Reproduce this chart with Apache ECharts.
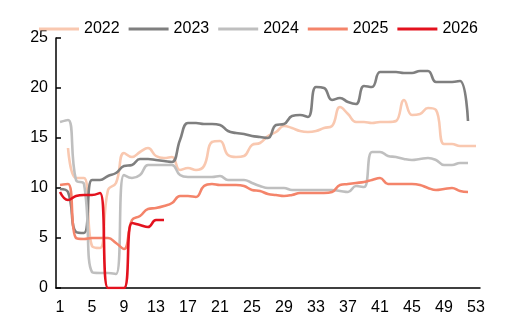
<!DOCTYPE html>
<html>
<head>
<meta charset="utf-8">
<script src="https://cdn.jsdelivr.net/npm/echarts@6/dist/echarts.min.js"></script>
<style>
html,body{margin:0;padding:0;background:#fff;}
#chart{width:510px;height:325px;}
</style>
</head>
<body>
<div id="chart"></div>
<script>
const weeks = ['1','2','3','4','5','6','7','8','9','10','11','12','13','14','15','16','17','18','19','20','21','22','23','24','25','26','27','28','29','30','31','32','33','34','35','36','37','38','39','40','41','42','43','44','45','46','47','48','49','50','51','52','53'];
const seriesNames = ['2022','2023','2024','2025','2026'];
const y2022 = [null,14.0,11.0,11.0,4.2,4.0,9.8,10.5,13.5,13.1,13.6,14.0,13.2,13.0,13.1,11.8,12.0,11.8,12.2,14.6,14.7,13.3,13.1,13.2,14.3,14.5,15.2,15.6,16.2,16.0,15.7,15.6,15.7,16.0,16.2,18.1,17.4,16.6,16.6,16.5,16.6,16.6,16.7,18.8,17.3,17.4,18.0,17.8,14.4,14.4,14.2,14.2,14.2];
const y2023 = [9.9,9.6,5.6,5.5,10.8,10.8,11.2,11.5,12.2,12.3,12.9,12.9,12.8,12.7,12.6,14.8,16.5,16.5,16.4,16.4,16.3,15.7,15.5,15.4,15.2,15.1,15.0,16.3,16.4,17.2,17.3,17.1,20.1,20.0,18.8,19.0,18.6,18.4,20.2,20.1,21.6,21.6,21.6,21.5,21.5,21.7,21.7,20.6,20.6,20.6,20.7,16.7,null];
const y2024 = [16.6,16.8,10.8,10.4,1.6,1.5,1.5,1.4,11.3,11.0,11.3,12.3,12.3,12.3,12.3,11.3,11.1,11.1,11.1,11.1,11.2,10.8,10.8,10.8,10.5,10.2,10.0,10.0,10.0,9.8,9.8,9.8,9.8,9.8,9.8,9.7,9.6,10.2,10.1,13.6,13.6,13.2,13.1,12.9,12.8,12.9,13.0,12.8,12.3,12.3,12.5,12.5,null];
const y2025 = [10.3,10.4,5.0,4.9,5.0,5.0,5.0,4.5,3.9,6.8,7.2,7.9,8.0,8.2,8.5,9.2,9.2,9.1,10.2,10.4,10.3,10.3,10.3,10.2,9.8,9.7,9.4,9.3,9.2,9.3,9.5,9.5,9.5,9.5,9.6,10.3,10.4,10.5,10.6,10.8,11.0,10.4,10.4,10.4,10.4,10.3,10.0,9.8,9.9,10.0,9.7,9.6,null];
const y2026 = [9.6,8.8,9.2,9.3,9.3,9.5,0,0,0,6.5,6.3,6.1,6.8,6.8];
const yTicks = [0,5,10,15,20,25];

const colors = ['#F9C8B0','#7F7F7F','#BFBFBF','#F4846A','#E3121E'];
const dataList = [y2022,y2023,y2024,y2025,y2026];
const font = "'Liberation Sans', Arial, sans-serif";

const chart = echarts.init(document.getElementById('chart'), null, {renderer:'canvas'});
chart.setOption({
  animation:false,
  backgroundColor:'#fff',
  color: colors,
  textStyle:{fontFamily:font},
  legend:{
    data: seriesNames,
    left: 34, top: 16,
    itemWidth: 40, itemHeight: 10, itemGap: 9,
    icon: 'path://M0,4 L40,4 L40,7 L0,7 Z',
    textStyle:{fontSize:16,color:'#000',fontFamily:font}
  },
  grid:{left:56,right:30,top:38,bottom:37,containLabel:false},
  xAxis:{
    type:'category', data:weeks, boundaryGap:true,
    axisLine:{lineStyle:{color:'#000',width:1.5}},
    axisTick:{inside:true,length:5,interval:3,lineStyle:{color:'#000',width:1.5}},
    axisLabel:{interval:3,fontSize:16,color:'#000',margin:12,fontFamily:font}
  },
  yAxis:{
    type:'value', min:yTicks[0], max:yTicks[yTicks.length-1], interval:5,
    axisLine:{show:true,lineStyle:{color:'#000',width:1.5}},
    axisTick:{show:true,inside:true,length:5,lineStyle:{color:'#000',width:1.5}},
    splitLine:{show:false},
    axisLabel:{fontSize:16,color:'#000',margin:8,fontFamily:font}
  },
  series: seriesNames.map((n,i)=>({
    name:n, type:'line', data:dataList[i], smooth:0.45,
    showSymbol:false, symbol:'none', connectNulls:false,
    lineStyle:{width:2.6,color:colors[i]}
  }))
});
</script>
</body>
</html>
